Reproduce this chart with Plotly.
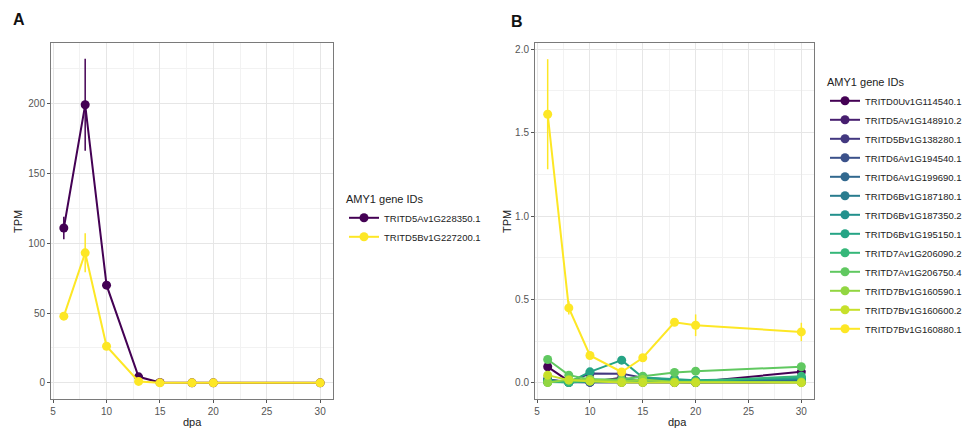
import plotly.graph_objects as go
import plotly.colors as pc

W, H = 966, 429

dpa = [6, 8, 10, 13, 15, 18, 20, 30]

a_ids = ["TRITD5Av1G228350.1", "TRITD5Bv1G227200.1"]
a_tpm = [
    [111.0, 199.3, 70.0, 4.3, 0.3, 0.0, 0.0, 0.0],
    [47.8, 93.2, 26.2, 1.0, 0.0, 0.0, 0.0, 0.0],
]
a_err = [
    [8.0, 33.0, 2.0, 1.0, 0.0, 0.0, 0.0, 0.0],
    [1.5, 14.0, 1.5, 0.5, 0.0, 0.0, 0.0, 0.0],
]

b_ids = [
    "TRITD0Uv1G114540.1", "TRITD5Av1G148910.2", "TRITD5Bv1G138280.1",
    "TRITD6Av1G194540.1", "TRITD6Av1G199690.1", "TRITD6Bv1G187180.1",
    "TRITD6Bv1G187350.2", "TRITD6Bv1G195150.1", "TRITD7Av1G206090.2",
    "TRITD7Av1G206750.4", "TRITD7Bv1G160590.1", "TRITD7Bv1G160600.2",
    "TRITD7Bv1G160880.1",
]
b_tpm = [
    [0.096, 0.010, 0.005, 0.030, 0.010, 0.010, 0.005, 0.066],
    [0.020, 0.005, 0.003, 0.004, 0.003, 0.002, 0.002, 0.003],
    [0.010, 0.005, 0.056, 0.055, 0.030, 0.020, 0.010, 0.015],
    [0.012, 0.004, 0.010, 0.008, 0.010, 0.010, 0.008, 0.020],
    [0.005, 0.003, 0.004, 0.003, 0.004, 0.003, 0.002, 0.004],
    [0.020, 0.002, 0.010, 0.006, 0.008, 0.006, 0.005, 0.010],
    [0.010, 0.004, 0.020, 0.015, 0.020, 0.015, 0.012, 0.025],
    [0.010, 0.002, 0.066, 0.136, 0.032, 0.020, 0.015, 0.030],
    [0.005, 0.003, 0.010, 0.008, 0.012, 0.010, 0.010, 0.040],
    [0.140, 0.046, 0.020, 0.020, 0.040, 0.062, 0.070, 0.096],
    [0.002, 0.020, 0.020, 0.010, 0.020, 0.005, 0.005, 0.005],
    [0.046, 0.016, 0.010, 0.002, 0.002, 0.001, 0.001, 0.001],
    [1.610, 0.449, 0.164, 0.065, 0.150, 0.363, 0.345, 0.305],
]
b_err = [
    [0.010, 0.005, 0.002, 0.010, 0.004, 0.003, 0.002, 0.010],
    [0.005, 0.002, 0.001, 0.001, 0.001, 0.001, 0.001, 0.001],
    [0.003, 0.002, 0.010, 0.010, 0.005, 0.004, 0.003, 0.004],
    [0.003, 0.001, 0.003, 0.002, 0.003, 0.003, 0.002, 0.004],
    [0.001, 0.001, 0.001, 0.001, 0.001, 0.001, 0.001, 0.001],
    [0.005, 0.001, 0.003, 0.002, 0.002, 0.002, 0.001, 0.003],
    [0.003, 0.001, 0.004, 0.003, 0.004, 0.003, 0.003, 0.005],
    [0.003, 0.001, 0.012, 0.015, 0.006, 0.004, 0.003, 0.006],
    [0.001, 0.001, 0.002, 0.002, 0.003, 0.002, 0.002, 0.006],
    [0.012, 0.006, 0.004, 0.004, 0.006, 0.008, 0.010, 0.012],
    [0.001, 0.004, 0.004, 0.002, 0.004, 0.001, 0.001, 0.001],
    [0.006, 0.003, 0.002, 0.001, 0.001, 0.001, 0.001, 0.001],
    [0.330, 0.040, 0.012, 0.010, 0.020, 0.012, 0.065, 0.055],
]

a_colors = ["#440154", "#FDE725"]
b_colors = pc.sample_colorscale("Viridis", [i / (len(b_ids) - 1) for i in range(len(b_ids))])

FONT = "Liberation Sans, Arial, sans-serif"

fig = go.Figure()

for name, y, e, c in zip(a_ids, a_tpm, a_err, a_colors):
    fig.add_trace(go.Scatter(
        x=dpa, y=y, name=name, mode="lines+markers",
        line=dict(color=c, width=2), marker=dict(color=c, size=9),
        error_y=dict(type="data", array=e, visible=True, color=c, thickness=1.5, width=0),
        xaxis="x", yaxis="y", legend="legend",
    ))

for name, y, e, c in zip(b_ids, b_tpm, b_err, b_colors):
    fig.add_trace(go.Scatter(
        x=dpa, y=y, name=name, mode="lines+markers",
        line=dict(color=c, width=2), marker=dict(color=c, size=9),
        error_y=dict(type="data", array=e, visible=True, color=c, thickness=1.5, width=0),
        xaxis="x2", yaxis="y2", legend="legend2",
    ))

ydom = [1 - 399 / H, 1 - 43 / H]
axis_common = dict(
    showline=True, linecolor="#7a7a7a", linewidth=1, mirror=True,
    showgrid=True, gridcolor="#e6e6e6", gridwidth=1,
    ticks="outside", ticklen=3, tickcolor="#555555",
    tickfont=dict(family=FONT, size=10, color="#555555"),
    zeroline=False,
)

fig.update_layout(
    width=W, height=H,
    margin=dict(l=0, r=0, t=0, b=0, autoexpand=False),
    paper_bgcolor="white", plot_bgcolor="white",
    font=dict(family=FONT, color="#222222"),
    xaxis=dict(domain=[51 / W, 333 / W], range=[4.8, 31.2], tickvals=[5, 10, 15, 20, 25, 30],
               minor=dict(showgrid=True, gridcolor="#f2f2f2", dtick=2.5, tick0=2.5), anchor="y", **axis_common),
    yaxis=dict(domain=ydom, range=[-11.6, 243.6], tickvals=[0, 50, 100, 150, 200],
               minor=dict(showgrid=True, gridcolor="#f2f2f2", dtick=25, tick0=25), anchor="x", **axis_common),
    xaxis2=dict(domain=[535 / W, 814 / W], range=[4.8, 31.2], tickvals=[5, 10, 15, 20, 25, 30],
                minor=dict(showgrid=True, gridcolor="#f2f2f2", dtick=2.5, tick0=2.5), anchor="y2", **axis_common),
    yaxis2=dict(domain=ydom, range=[-0.097, 2.037], tickvals=[0, 0.5, 1.0, 1.5, 2.0], tickformat=".1f",
                minor=dict(showgrid=True, gridcolor="#f2f2f2", dtick=0.25, tick0=0.25), anchor="x2", **axis_common),
    legend=dict(
        x=344 / W, xanchor="left", y=1 - 189 / H, yanchor="top",
        title=dict(text="AMY1 gene IDs", font=dict(family=FONT, size=11, color="#222222")),
        font=dict(family=FONT, size=9.5, color="#222222"), itemwidth=30, bgcolor="rgba(0,0,0,0)",
    ),
    legend2=dict(
        x=825 / W, xanchor="left", y=1 - 72 / H, yanchor="top",
        title=dict(text="AMY1 gene IDs", font=dict(family=FONT, size=11, color="#222222")),
        font=dict(family=FONT, size=9.5, color="#222222"), itemwidth=30, bgcolor="rgba(0,0,0,0)",
    ),
    showlegend=True,
)

ann = dict(showarrow=False, font=dict(family=FONT, size=11, color="#222222"))
fig.add_annotation(text="<b>A</b>", x=19 / W, y=1 - 20 / H, xref="paper", yref="paper",
                   xanchor="center", yanchor="middle", showarrow=False,
                   font=dict(family=FONT, size=16, color="#111111"))
fig.add_annotation(text="<b>B</b>", x=517 / W, y=1 - 21 / H, xref="paper", yref="paper",
                   xanchor="center", yanchor="middle", showarrow=False,
                   font=dict(family=FONT, size=16, color="#111111"))
fig.add_annotation(text="dpa", x=192 / W, y=1 - 422 / H, xref="paper", yref="paper",
                   xanchor="center", yanchor="middle", **ann)
fig.add_annotation(text="dpa", x=677 / W, y=1 - 422 / H, xref="paper", yref="paper",
                   xanchor="center", yanchor="middle", **ann)
fig.add_annotation(text="TPM", x=18 / W, y=1 - 222 / H, xref="paper", yref="paper",
                   xanchor="center", yanchor="middle", textangle=-90, **ann)
fig.add_annotation(text="TPM", x=507 / W, y=1 - 222 / H, xref="paper", yref="paper",
                   xanchor="center", yanchor="middle", textangle=-90, **ann)

fig.write_html(
    "out.html",
    config={"displayModeBar": False},
    post_script="document.body.style.margin='0';document.body.style.overflow='hidden';",
)
